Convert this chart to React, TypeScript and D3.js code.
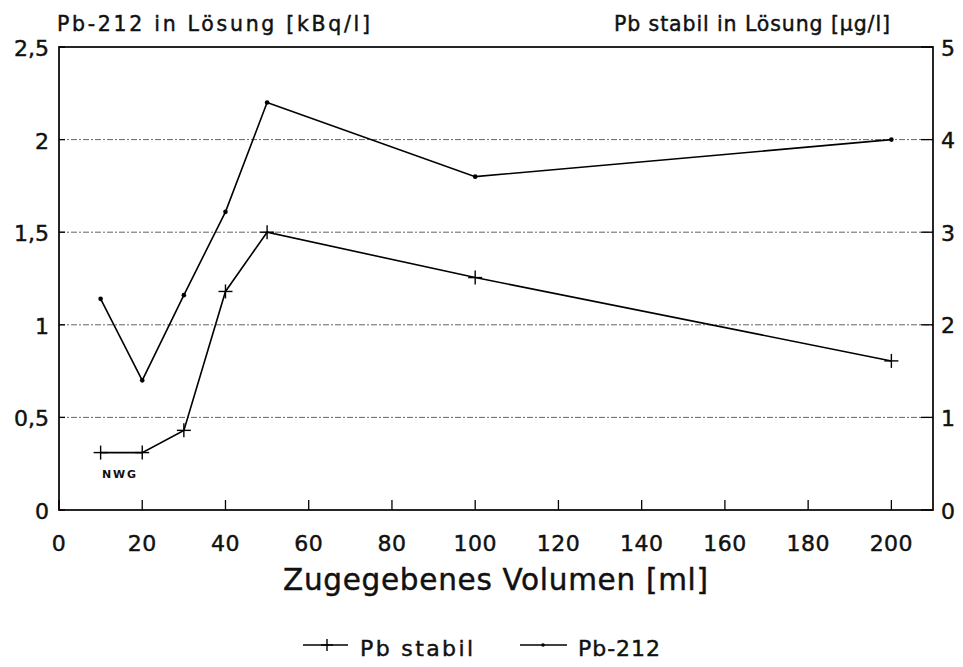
import React from "react";
import * as d3 from "d3";

// Added volume in ml
const volumes = [10, 20, 30, 40, 50, 100, 200];
// Pb-212 activity in solution (kBq/l), left axis
const pb212 = [1.14, 0.7, 1.16, 1.61, 2.2, 1.8, 2.0];
// Stable Pb in solution (µg/l), right axis
const pbStabil = [0.62, 0.62, 0.86, 2.36, 3.0, 2.51, 1.61];

const xTicks = [0, 20, 40, 60, 80, 100, 120, 140, 160, 180, 200];
const leftTicks = [0, 0.5, 1, 1.5, 2, 2.5];
const rightTicks = [0, 1, 2, 3, 4, 5];
const gridTicks = [0.5, 1, 1.5, 2];

const W = 963;
const H = 667;
const M = { left: 59, right: 933, top: 47, bottom: 510 };
const FONT = "'DejaVu Sans', 'Liberation Sans', Arial, sans-serif";

export default function App() {
  const x = d3.scaleLinear().domain([0, 210]).range([M.left, M.right]);
  const yL = d3.scaleLinear().domain([0, 2.5]).range([M.bottom, M.top]);
  const yR = d3.scaleLinear().domain([0, 5]).range([M.bottom, M.top]);
  const fmt = (v: number) => String(v).replace(".", ",");

  const line212 = d3
    .line<number>()
    .x((_, i) => x(volumes[i]))
    .y((d) => yL(d))(pb212) as string;
  const lineStabil = d3
    .line<number>()
    .x((_, i) => x(volumes[i]))
    .y((d) => yR(d))(pbStabil) as string;

  const plus = (cx: number, cy: number, s: number, key: string) => (
    <g key={key} stroke="#000" strokeWidth={1.4}>
      <line x1={cx - s} x2={cx + s} y1={cy} y2={cy} />
      <line x1={cx} x2={cx} y1={cy - s} y2={cy + s} />
    </g>
  );

  // slightly heavier lettering
  const ink = { fill: "#111", stroke: "#111", strokeWidth: 0.45 };

  return (
    <svg
      width={W}
      height={H}
      style={{ position: "absolute", left: 0, top: 0, background: "#fff" }}
      fontFamily={FONT}
    >
      {/* grid lines */}
      {gridTicks.map((t) => (
        <line
          key={"g" + t}
          x1={M.left}
          x2={M.right}
          y1={yL(t)}
          y2={yL(t)}
          stroke="#666"
          strokeWidth={1}
          strokeDasharray="6 2 2 2"
        />
      ))}

      {/* frame */}
      <rect
        x={M.left}
        y={M.top}
        width={M.right - M.left}
        height={M.bottom - M.top}
        fill="none"
        stroke="#000"
        strokeWidth={1.7}
      />

      {/* x ticks */}
      {xTicks.map((t) => (
        <g key={"x" + t}>
          <line x1={x(t)} x2={x(t)} y1={M.bottom} y2={M.bottom - 10} stroke="#000" strokeWidth={1.3} />
          <text x={x(t)} y={M.bottom + 41} textAnchor="middle" fontSize={22} letterSpacing={0.5} {...ink}>
            {t}
          </text>
        </g>
      ))}

      {/* left ticks */}
      {leftTicks.map((t) => (
        <g key={"l" + t}>
          <line x1={M.left} x2={M.left + 6} y1={yL(t)} y2={yL(t)} stroke="#000" strokeWidth={1.3} />
          <text x={49} y={yL(t) + 9} textAnchor="end" fontSize={22} {...ink}>
            {fmt(t)}
          </text>
        </g>
      ))}

      {/* right ticks */}
      {rightTicks.map((t) => (
        <g key={"r" + t}>
          <line x1={M.right - 12} x2={M.right} y1={yR(t)} y2={yR(t)} stroke="#000" strokeWidth={1.3} />
          <text x={941} y={yR(t) + 8.5} textAnchor="start" fontSize={22} {...ink}>
            {t}
          </text>
        </g>
      ))}

      {/* axis titles */}
      <text x={57} y={31} fontSize={20.5} textLength={313} lengthAdjust="spacing" {...ink}>
        Pb-212 in Lösung [kBq/l]
      </text>
      <text x={614} y={31} fontSize={20.5} textLength={276} lengthAdjust="spacing" {...ink}>
        Pb stabil in Lösung [µg/l]
      </text>
      <text x={283} y={590} fontSize={29.5} textLength={425} lengthAdjust="spacing" {...ink}>
        Zugegebenes Volumen [ml]
      </text>

      {/* series */}
      <path d={line212} fill="none" stroke="#000" strokeWidth={1.6} />
      {pb212.map((v, i) => (
        <circle key={"c" + i} cx={x(volumes[i])} cy={yL(v)} r={2.3} fill="#000" />
      ))}
      <path d={lineStabil} fill="none" stroke="#000" strokeWidth={1.6} />
      {pbStabil.map((v, i) => plus(x(volumes[i]), yR(v), 7, "p" + i))}

      <text x={102} y={478} fontSize={11} fontWeight="bold" textLength={34} lengthAdjust="spacing" fill="#111">
        NWG
      </text>

      {/* legend */}
      <line x1={303} x2={348} y1={645} y2={645} stroke="#000" strokeWidth={1.4} />
      {plus(327, 645, 6, "leg")}
      <text x={360} y={656} fontSize={22} textLength={113} lengthAdjust="spacing" {...ink}>
        Pb stabil
      </text>
      <line x1={520} x2={567} y1={645} y2={645} stroke="#000" strokeWidth={1.4} />
      <circle cx={543} cy={645} r={1.8} fill="#000" />
      <text x={578} y={656} fontSize={22} textLength={82} lengthAdjust="spacing" {...ink}>
        Pb-212
      </text>
    </svg>
  );
}
